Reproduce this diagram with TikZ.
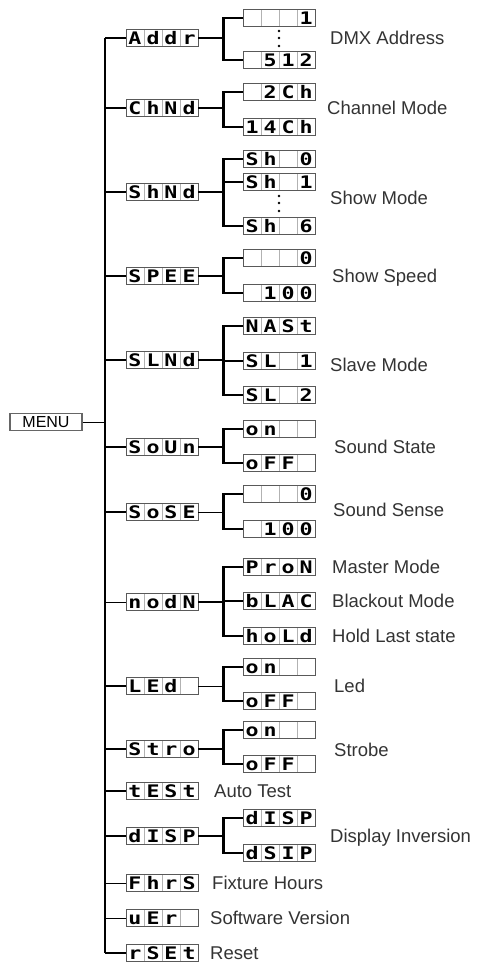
\documentclass[tikz,border=0pt]{standalone}
\usepackage{fontspec}
\setmainfont{Liberation Sans}
\newfontfamily\lcdfont{DejaVu Sans Mono}
\usepackage{graphicx}
\usepackage{tikz}
\usetikzlibrary{positioning}

% four cells of a segment display
\newcommand{\lcdchar}[1]{\makebox[18pt]{\scalebox{1.35}[1.08]{#1}}}
\newcommand{\cells}[4]{\lcdchar{#1}\lcdchar{#2}\lcdchar{#3}\lcdchar{#4}}

\tikzset{
  lcd/.style={draw=black!65, line width=0.9pt, fill=white, minimum width=72pt, minimum height=17pt,
    inner sep=0pt, text height=12.5pt, text depth=0pt,
    font=\lcdfont\bfseries\fontsize{16}{16}\selectfont,
    path picture={\foreach \k in {18,36,54}
      \draw[black!30, line width=0.6pt] ([xshift=\k pt]path picture bounding box.south west) -- ([xshift=\k pt]path picture bounding box.north west);}},
  lbl/.style={anchor=west, inner sep=0pt, text height=13.2pt, text depth=0pt, text=black!80,
    font=\fontsize{18.5}{20}\selectfont},
  trunk/.style={line width=2.6pt},
  link/.style={line width=2.2pt},
  thinlink/.style={line width=1pt}
}

\begin{document}
\begin{tikzpicture}[x=1pt, y=-1pt]
		\useasboundingbox (0,0) rectangle (482,963);

		\node[draw=black!60, line width=1.5pt, minimum width=72pt, minimum height=17pt, inner sep=0pt,
			font=\fontsize{16}{16}\selectfont] (menu) at (46,422) {MENU};
		\coordinate (top) at (105,38);
		\coordinate (bot) at (105,953);

		% first level
		\node[lcd] (addr) at (162,38) {\cells{A}{d}{d}{r}};
		\node[lcd] (chnd) at (162,108) {\cells{C}{h}{N}{d}};
		\node[lcd] (shnd) at (162,192) {\cells{S}{h}{N}{d}};
		\node[lcd] (spee) at (162,276) {\cells{S}{P}{E}{E}};
		\node[lcd] (slnd) at (162,360) {\cells{S}{L}{N}{d}};
		\node[lcd] (soun) at (162,447) {\cells{S}{o}{U}{n}};
		\node[lcd] (sose) at (162,512) {\cells{S}{o}{S}{E}};
		\node[lcd] (modn) at (162,602) {\cells{n}{o}{d}{N}};
		\node[lcd] (led) at (162,686) {\cells{L}{E}{d}{}};
		\node[lcd] (stro) at (162,749) {\cells{S}{t}{r}{o}};
		\node[lcd] (test) at (162,791) {\cells{t}{E}{S}{t}};
		\node[lcd] (disp) at (162,836) {\cells{d}{I}{S}{P}};
		\node[lcd] (fhrs) at (162,883) {\cells{F}{h}{r}{S}};
		\node[lcd] (ver) at (162,918) {\cells{u}{E}{r}{}};
		\node[lcd] (rset) at (162,953) {\cells{r}{S}{E}{t}};

		% second level
		\node[lcd] (addra) at (279,18) {\cells{}{}{}{1}};
		\node[lcd] (addrb) at (279,60) {\cells{}{5}{1}{2}};
		\node[lcd] (chnda) at (279,92) {\cells{}{2}{C}{h}};
		\node[lcd] (chndb) at (279,127) {\cells{1}{4}{C}{h}};
		\node[lcd] (shnda) at (279,159) {\cells{S}{h}{}{0}};
		\node[lcd] (shndb) at (279,182) {\cells{S}{h}{}{1}};
		\node[lcd] (shndc) at (279,226) {\cells{S}{h}{}{6}};
		\node[lcd] (speea) at (279,258) {\cells{}{}{}{0}};
		\node[lcd] (speeb) at (279,293) {\cells{}{1}{0}{0}};
		\node[lcd] (slnda) at (279,326) {\cells{N}{A}{S}{t}};
		\node[lcd] (slndb) at (279,361) {\cells{S}{L}{}{1}};
		\node[lcd] (slndc) at (279,395) {\cells{S}{L}{}{2}};
		\node[lcd] (souna) at (279,429) {\cells{o}{n}{}{}};
		\node[lcd] (sounb) at (279,463) {\cells{o}{F}{F}{}};
		\node[lcd] (sosea) at (279,494) {\cells{}{}{}{0}};
		\node[lcd] (soseb) at (279,529) {\cells{}{1}{0}{0}};
		\node[lcd] (modna) at (279,567) {\cells{P}{r}{o}{N}};
		\node[lcd] (modnb) at (279,601) {\cells{b}{L}{A}{C}};
		\node[lcd] (modnc) at (279,636) {\cells{h}{o}{L}{d}};
		\node[lcd] (leda) at (279,667) {\cells{o}{n}{}{}};
		\node[lcd] (ledb) at (279,701) {\cells{o}{F}{F}{}};
		\node[lcd] (stroa) at (279,730) {\cells{o}{n}{}{}};
		\node[lcd] (strob) at (279,764) {\cells{o}{F}{F}{}};
		\node[lcd] (dispa) at (279,818) {\cells{d}{I}{S}{P}};
		\node[lcd] (dispb) at (279,853) {\cells{d}{S}{I}{P}};

		\foreach \d in {31,38,46} \fill (279,\d) circle (1.3);
		\foreach \d in {196,203,211} \fill (279,\d) circle (1.3);

		% labels
		\node[lbl] (laddr) at (330,38) {DMX Address};
		\node[lbl] (lchnd) at (327,108) {Channel Mode};
		\node[lbl] (lshnd) at (330,198) {Show Mode};
		\node[lbl] (lspee) at (332,276) {Show Speed};
		\node[lbl] (lslnd) at (330,365) {Slave Mode};
		\node[lbl] (lsoun) at (334,447) {Sound State};
		\node[lbl] (lsose) at (333,510) {Sound Sense};
		\node[lbl] (lmodna) at (332,567) {Master Mode};
		\node[lbl] (lmodnb) at (332,601) {Blackout Mode};
		\node[lbl] (lmodnc) at (332,636) {Hold Last state};
		\node[lbl] (lled) at (334,686) {Led};
		\node[lbl] (lstro) at (334,750) {Strobe};
		\node[lbl] (ltest) at (214,791) {Auto Test};
		\node[lbl] (ldisp) at (330,836) {Display Inversion};
		\node[lbl] (lfhrs) at (212,883) {Fixture Hours};
		\node[lbl] (lver) at (210,918) {Software Version};
		\node[lbl] (lrset) at (210,953) {Reset};

		% trunk
		\draw[trunk] (top) -- (bot);
		\draw[thinlink] (menu.east) -- (menu.east -| top);
		\foreach \n in {addr,chnd,shnd,spee,slnd,soun,sose,led,stro,test,disp,rset}
			\draw[link] (\n.west -| top) -- (\n.west);
		\foreach \n in {modn,fhrs,ver}
			\draw[thinlink] (\n.west -| top) -- (\n.west);

		% branches
		\foreach \p/\c in {addr/addra,addr/addrb,chnd/chnda,chnd/chndb,shnd/shnda,shnd/shndb,shnd/shndc,
			spee/speea,spee/speeb,slnd/slnda,slnd/slndb,slnd/slndc,soun/souna,soun/sounb,
			modn/modna,modn/modnb,modn/modnc,stro/stroa,stro/strob,disp/dispa,disp/dispb}
			\draw[link] (\p.east) -- ++(25,0) |- (\c.west);
		\foreach \p/\c in {sose/sosea,sose/soseb,led/leda,led/ledb}
			\draw[link] (\p.east) ++(25,0) |- (\c.west);
		\draw[thinlink] (sose.east) -- ++(25,0);
		\draw[thinlink] (led.east) -- ++(25,0);
\end{tikzpicture}
\end{document}
